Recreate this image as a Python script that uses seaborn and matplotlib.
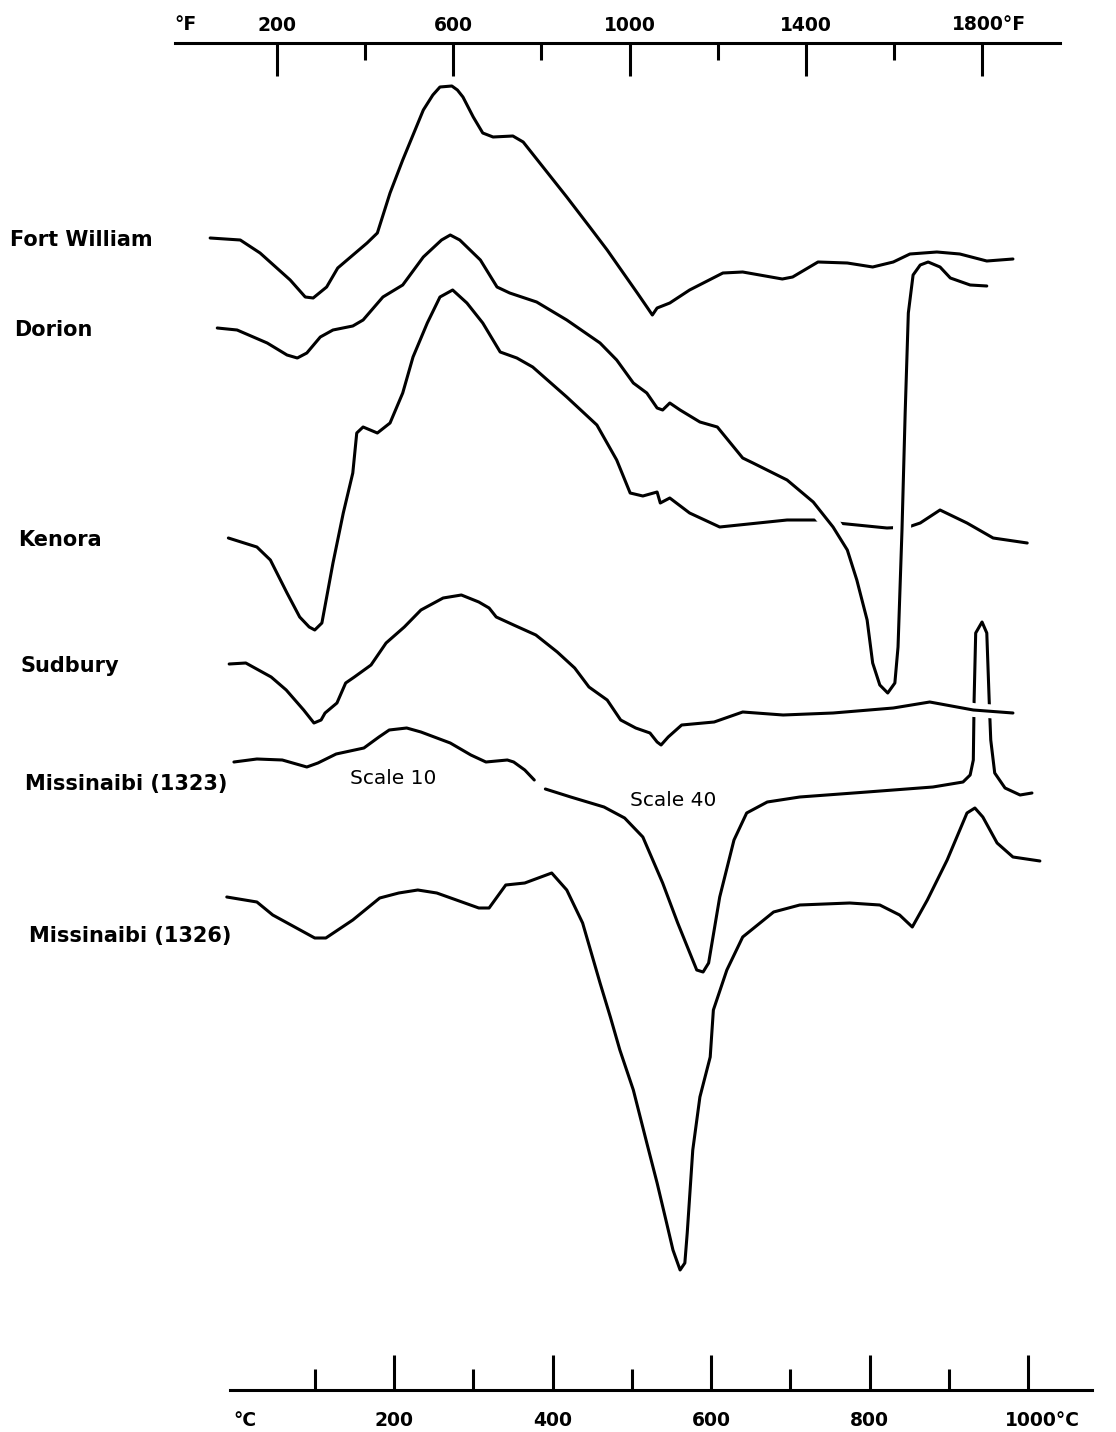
import matplotlib.pyplot as plt
import matplotlib.patheffects as pe
import seaborn as sns
import pandas as pd

# DTA curves, temperature in deg C (bottom scale), pen position in chart units (down = larger)
fw_t = [-32, 6, 31, 69, 88, 98, 115, 129, 166, 179, 195, 211, 237, 249, 258, 273, 280, 287, 300, 312, 325,
        350, 363, 388, 418, 447, 469, 507, 520, 526, 532, 548, 573, 615, 640, 690, 703, 735, 772,
        804, 830, 851, 885, 914, 948, 981]
fw_y = [238, 240, 253, 280, 297, 298, 287, 268, 243, 233, 193, 160, 110, 95, 87, 86, 90, 97, 117, 133, 137,
        136, 142, 167, 197, 227, 250, 293, 308, 315, 308, 303, 290, 273, 272, 279, 277, 262, 263,
        267, 262, 254, 252, 254, 261, 259]

dor_t = [-23, 2, 40, 65, 78, 90, 107, 123, 148, 161, 186, 211, 237, 260, 271, 283, 309, 330, 346, 380,
         418, 460, 481, 502, 519, 532, 539, 548, 561, 586, 608, 640, 653, 696, 729, 754, 772, 784,
         797, 804, 813, 823, 832, 836, 841, 845, 849, 855, 864, 874, 889, 902, 927, 948]
dor_y = [328, 330, 343, 355, 358, 353, 337, 330, 326, 320, 297, 285, 257, 240, 235, 240, 260, 287, 293, 302,
         320, 343, 360, 383, 393, 408, 410, 403, 410, 422, 427, 458, 463, 480, 502, 527, 550, 580,
         620, 663, 685, 693, 683, 647, 530, 413, 313, 275, 265, 262, 267, 278, 285, 286]

ken_t = [-9, 27, 44, 65, 81, 93, 100, 109, 123, 136, 148, 153, 161, 179, 195, 211, 224, 242, 258, 274,
         292, 312, 334, 355, 375, 418, 456, 481, 498, 514, 532, 536, 548, 573, 611, 696, 734, 759,
         822, 849, 864, 889, 923, 956, 999]
ken_y = [538, 547, 560, 593, 617, 627, 630, 623, 563, 513, 473, 433, 427, 433, 423, 393, 357, 323, 297, 290,
         303, 323, 352, 358, 367, 397, 425, 460, 493, 496, 492, 503, 498, 513, 527, 520, 520, 523,
         528, 527, 523, 510, 523, 538, 543]

sud_t = [-8, 13, 45, 64, 86, 99, 108, 113, 128, 139, 150, 171, 190, 213, 234, 262, 285, 307, 320,
         329, 351, 379, 406, 428, 446, 469, 486, 505, 523, 532, 537, 546, 563, 604, 640, 691, 754,
         830, 876, 931, 981]
sud_y = [664, 663, 677, 690, 710, 723, 720, 713, 703, 683, 677, 665, 643, 627, 610, 598, 595, 602, 608,
         617, 625, 635, 652, 668, 687, 700, 720, 728, 733, 742, 745, 737, 725, 722, 712, 715, 713,
         708, 702, 710, 713]

# Missinaibi (1323): first part recorded at scale 10, rest at scale 40
m23a_t = [-2, 27, 59, 90, 104, 127, 162, 181, 194, 216, 234, 271, 297, 316, 343, 351, 365, 377]
m23a_y = [762, 759, 760, 767, 763, 754, 748, 737, 730, 728, 732, 743, 755, 762, 760, 762, 770, 780]
m23b_t = [391, 423, 465, 491, 514, 539, 558, 582, 590, 597, 611, 629, 645, 671, 712, 797, 880, 918,
          927, 931, 932, 934, 942, 948, 951, 953, 958, 971, 990, 1005]
m23b_y = [789, 797, 807, 818, 837, 883, 923, 970, 972, 963, 897, 840, 813, 802, 797, 792, 787, 782,
          775, 760, 700, 633, 622, 633, 700, 740, 773, 788, 795, 793]

m26_t = [-11, 27, 47, 100, 114, 148, 182, 206, 230, 254, 307, 320, 341, 365, 399, 418, 438, 460, 473,
         485, 502, 519, 532, 544, 552, 561, 567, 570, 577, 586, 599, 603, 620, 640, 679, 712, 775,
         813, 838, 854, 873, 898, 923, 933, 943, 961, 981, 1015]
m26_y = [897, 902, 915, 938, 938, 920, 898, 893, 890, 893, 908, 908, 885, 883, 873, 890, 923, 983, 1017,
         1050, 1090, 1143, 1183, 1223, 1250, 1270, 1263, 1233, 1150, 1097, 1057, 1010, 970, 937, 912,
         905, 903, 905, 915, 927, 900, 860, 813, 808, 817, 843, 857, 861]

labels = ["Fort William", "Dorion", "Kenora", "Sudbury", "Missinaibi (1323)", "Missinaibi (1326)"]
label_pos = [(10, 240), (14, 330), (18, 540), (21, 666), (25, 784), (29, 936)]

c_major = [200, 400, 600, 800, 1000]
c_minor = [100, 300, 500, 700, 900]
f_major = [200, 600, 1000, 1400, 1800]
f_minor = [400, 800, 1200, 1600]

sns.set_theme(style="white")
plt.rcParams["font.family"] = ["DejaVu Sans"]
plt.rcParams["text.color"] = "black"
plt.rcParams["xtick.color"] = "black"

W, H = 1116, 1432
fig = plt.figure(figsize=(W / 100, H / 100), dpi=100)
fig.patch.set_facecolor("white")

# main drawing area: x in deg C, same scale as the bottom axis
ax = fig.add_axes([0, 0, 1, 1])
px_per_c = 0.7925
c0_px = 235.5
ax.set_xlim((0 - c0_px) / px_per_c, (W - c0_px) / px_per_c)
ax.set_ylim(H, 0)
ax.axis("off")

lw = 2.2

def trace(t, y, halo=0):
    df = pd.DataFrame({"t": t, "y": y})
    sns.lineplot(data=df, x="t", y="y", sort=False, estimator=None,
                 color="black", lw=lw, ax=ax, solid_capstyle="round", solid_joinstyle="round")
    if halo:
        ax.lines[-1].set_path_effects([pe.Stroke(linewidth=halo, foreground="white"), pe.Normal()])

trace(ken_t, ken_y)
trace(dor_t, dor_y, halo=13)
trace(fw_t, fw_y)
trace(m26_t, m26_y)
trace(m23a_t, m23a_y)
trace(m23b_t, m23b_y)
trace(sud_t, sud_y, halo=10)
ax.set_xlabel("")
ax.set_ylabel("")

for name, (lx, ly) in zip(labels, label_pos):
    fig.text(lx / W, 1 - ly / H, name, ha="left", va="center",
             fontsize=15, fontweight="bold", color="black")

fig.text(350 / W, 1 - 778 / H, "Scale 10", ha="left", va="center", fontsize=14.5, color="black")
fig.text(630 / W, 1 - 800 / H, "Scale 40", ha="left", va="center", fontsize=14.5, color="black")

# bottom scale (deg C)
b_left, b_right, b_y = 230, 1092, 1390
axc = fig.add_axes([b_left / W, 1 - b_y / H, (b_right - b_left) / W, 0.02])
axc.set_xlim((b_left - c0_px) / px_per_c, (b_right - c0_px) / px_per_c)
axc.patch.set_alpha(0)
for s in ["top", "left", "right"]:
    axc.spines[s].set_visible(False)
axc.spines["bottom"].set_linewidth(2.2)
axc.spines["bottom"].set_color("black")
axc.set_yticks([])
axc.set_xticks(c_major)
axc.set_xticks(c_minor, minor=True)
axc.set_xticklabels(["200", "400", "600", "800", ""])
axc.tick_params(axis="x", which="both", bottom=True, top=False)
axc.tick_params(axis="x", which="major", direction="in", length=25, width=2.2,
                color="black", pad=15, labelsize=13.5, labelcolor="black")
axc.tick_params(axis="x", which="minor", direction="in", length=15, width=2.2, color="black")
for lab in axc.get_xticklabels():
    lab.set_fontweight("bold")
axc.text((245 - b_left) / (b_right - b_left), -1.05, "°C", transform=axc.transAxes,
         ha="center", va="center", fontsize=13.5, fontweight="bold", color="black")
axc.text((1005 - b_left) / (b_right - b_left), -1.05, "1000°C", transform=axc.transAxes,
         ha="left", va="center", fontsize=13.5, fontweight="bold", color="black")

# top scale (deg F)
px_per_f = 0.4406
f0_px = 188.9
t_left, t_right, t_y = 175, 1060, 43
axf = fig.add_axes([t_left / W, 1 - t_y / H - 0.02, (t_right - t_left) / W, 0.02])
axf.set_xlim((t_left - f0_px) / px_per_f, (t_right - f0_px) / px_per_f)
axf.patch.set_alpha(0)
for s in ["bottom", "left", "right"]:
    axf.spines[s].set_visible(False)
axf.spines["top"].set_linewidth(2.2)
axf.spines["top"].set_color("black")
axf.set_yticks([])
axf.xaxis.tick_top()
axf.set_xticks(f_major)
axf.set_xticks(f_minor, minor=True)
axf.set_xticklabels(["200", "600", "1000", "1400", ""])
axf.tick_params(axis="x", which="major", direction="in", length=24, width=2.2,
                color="black", pad=6, labelsize=13.5, labelcolor="black")
axf.tick_params(axis="x", which="minor", direction="in", length=12, width=2.2, color="black")
for lab in axf.get_xticklabels():
    lab.set_fontweight("bold")
axf.text((186 - t_left) / (t_right - t_left), 1 + 18 / (0.02 * H), "°F", transform=axf.transAxes,
         ha="center", va="center", fontsize=13.5, fontweight="bold", color="black")
axf.text((952 - t_left) / (t_right - t_left), 1 + 18 / (0.02 * H), "1800°F", transform=axf.transAxes,
         ha="left", va="center", fontsize=13.5, fontweight="bold", color="black")

fig.savefig("out.png", dpi=100, facecolor="white")
